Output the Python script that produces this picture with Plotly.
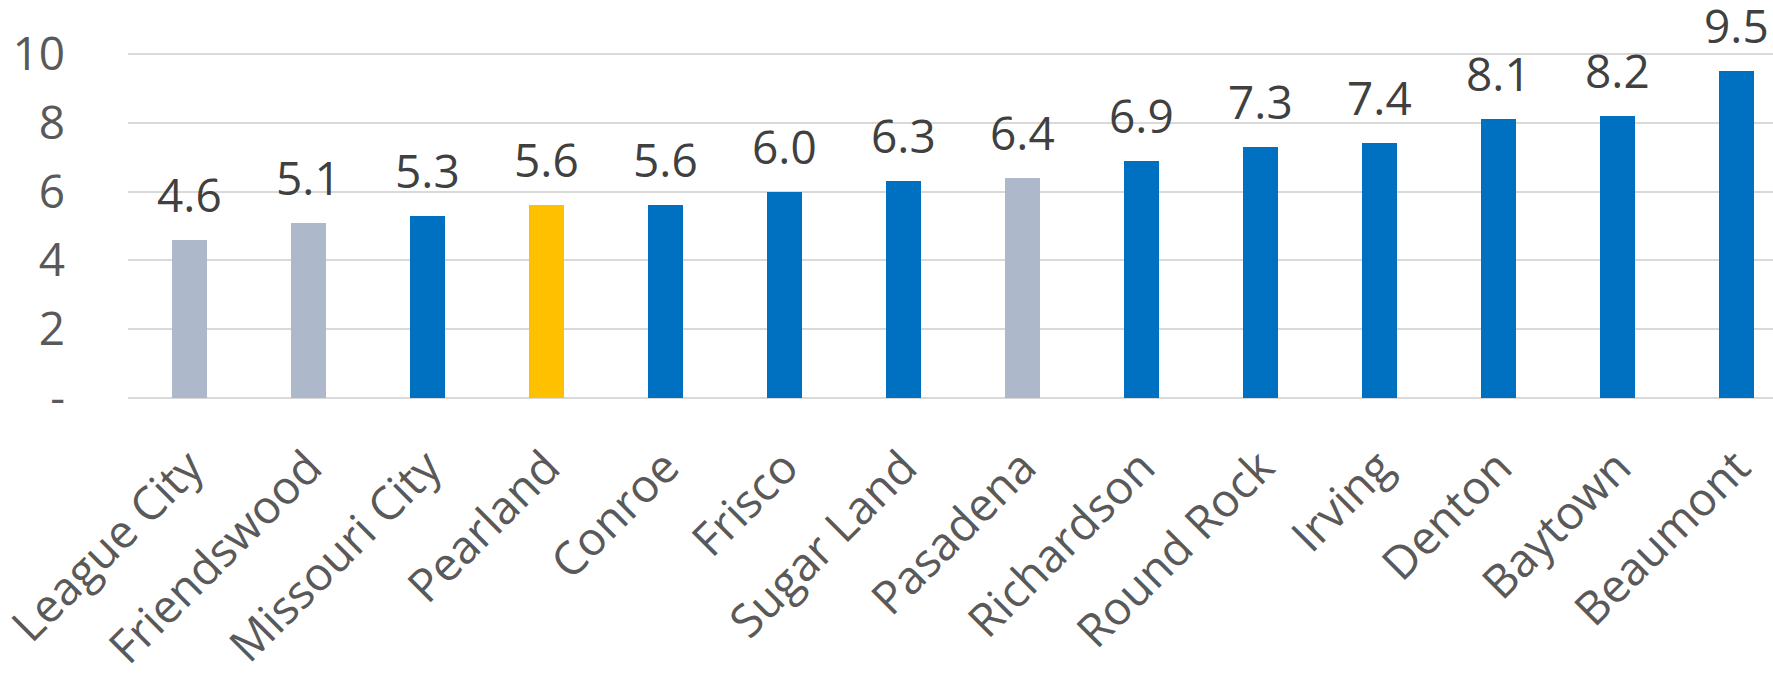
import plotly.graph_objects as go

cities = ["League City", "Friendswood", "Missouri City", "Pearland", "Conroe", "Frisco",
          "Sugar Land", "Pasadena", "Richardson", "Round Rock", "Irving", "Denton",
          "Baytown", "Beaumont"]
values = [4.6, 5.1, 5.3, 5.6, 5.6, 6.0, 6.3, 6.4, 6.9, 7.3, 7.4, 8.1, 8.2, 9.5]
groups = ["gray", "gray", "blue", "gold", "blue", "blue", "blue", "gray", "blue", "blue",
          "blue", "blue", "blue", "blue"]
y_ticks = [0, 2, 4, 6, 8, 10]
y_tick_labels = ["-", "2", "4", "6", "8", "10"]

palette = {"gray": "#ADB9CA", "blue": "#0070C0", "gold": "#FFC000"}
FONT = "Open Sans"

fig = go.Figure()
fig.add_trace(go.Bar(
    x=cities, y=values, width=0.30,
    marker=dict(color=[palette[g] for g in groups], line=dict(width=0)),
    hoverinfo="skip",
))

for c, v in zip(cities, values):
    fig.add_annotation(x=c, y=v, text=f"{v:.1f}", showarrow=False,
                       yanchor="bottom", yshift=13,
                       font=dict(family=FONT, size=46, color="#404040"))

fig.update_layout(
    width=1773, height=678,
    margin=dict(l=128, r=0, t=2, b=280, autoexpand=False),
    paper_bgcolor="white", plot_bgcolor="white",
    showlegend=False, bargap=0,
    font=dict(family=FONT, size=44, color="#595959"),
)
fig.update_xaxes(
    range=[-0.517, 13.307], tickangle=-45, showgrid=False, showline=False,
    ticks="", ticklabelstandoff=32, automargin=False,
    tickfont=dict(family=FONT, size=46, color="#595959"),
)
fig.update_yaxes(
    range=[0, 11.51], tickvals=y_ticks, ticktext=y_tick_labels,
    showgrid=True, gridcolor="#D9D9D9", gridwidth=2,
    zeroline=True, zerolinecolor="#D9D9D9", zerolinewidth=2,
    showline=False, ticks="", ticklabelstandoff=62, automargin=False,
    tickfont=dict(family=FONT, size=46, color="#595959"),
)

fig.write_html("out.html")
